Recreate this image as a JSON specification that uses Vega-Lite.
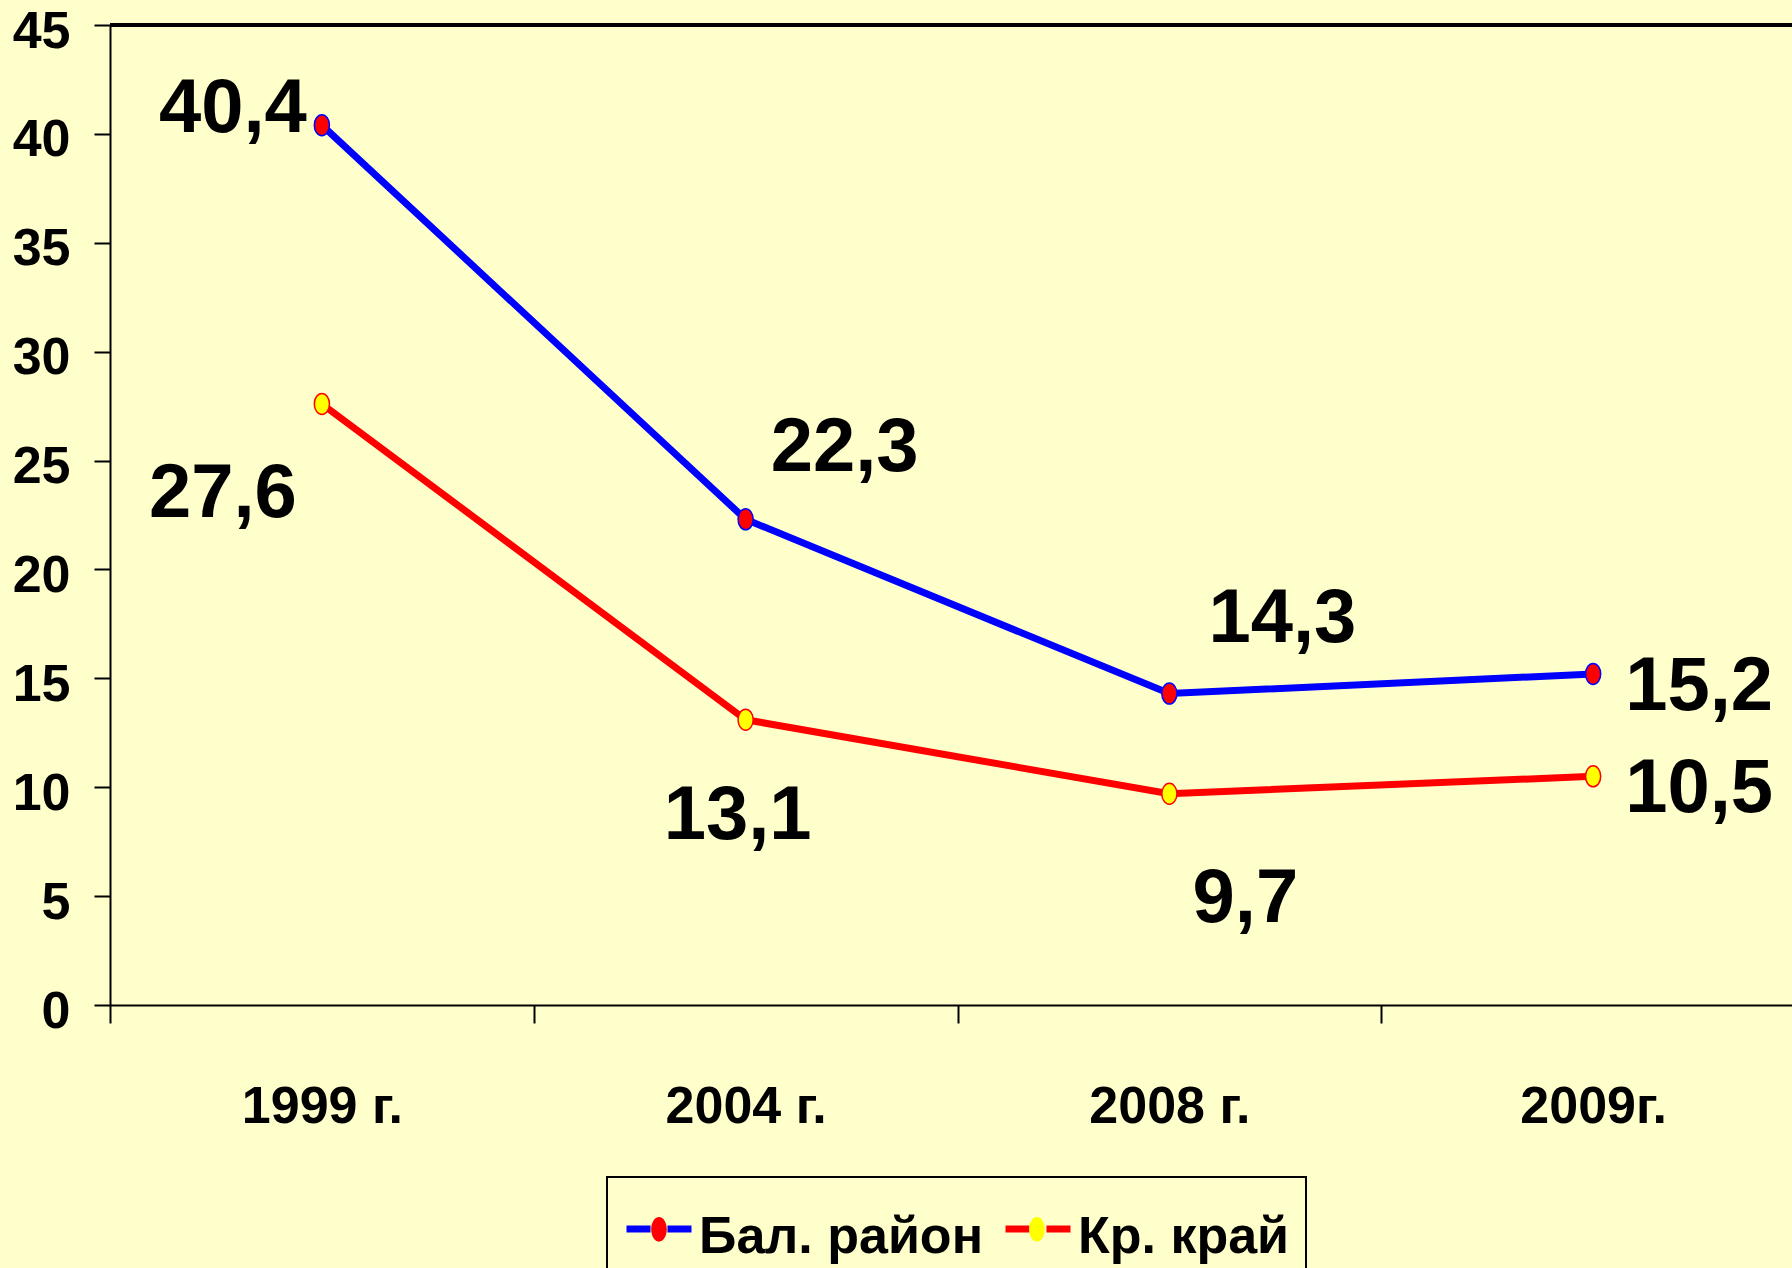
{
  "$schema": "https://vega.github.io/schema/vega-lite/v6.json",
  "autosize": {"type": "none"},
  "width": 1682,
  "height": 980,
  "padding": {"left": 110, "top": 25, "right": 0, "bottom": 263},
  "background": "#FFFFCC",
  "data": {
    "values": [
      {"year": "1999 г.", "series": "Бал. район", "value": 40.4},
      {"year": "2004 г.", "series": "Бал. район", "value": 22.3},
      {"year": "2008 г.", "series": "Бал. район", "value": 14.3},
      {"year": "2009г.", "series": "Бал. район", "value": 15.2},
      {"year": "1999 г.", "series": "Кр. край", "value": 27.6},
      {"year": "2004 г.", "series": "Кр. край", "value": 13.1},
      {"year": "2008 г.", "series": "Кр. край", "value": 9.7},
      {"year": "2009г.", "series": "Кр. край", "value": 10.5}
    ]
  },
  "layer": [
    {
      "mark": {"type": "rule", "color": "black", "strokeWidth": 3},
      "encoding": {"y": {"datum": 45, "type": "quantitative", "scale": {"domain": [0, 45], "nice": false, "zero": true}}}
    },
    {
      "mark": {"type": "line", "strokeWidth": 7},
      "encoding": {
        "x": {"field": "year", "type": "ordinal", "sort": ["1999 г.", "2004 г.", "2008 г.", "2009г."],
              "scale": {"type": "band", "paddingInner": 0, "paddingOuter": 0, "range": [0, 1695]},
              "axis": {"title": null, "labelAngle": 0, "tickBand": "extent", "tickSize": 18, "labelPadding": 58, "labelLimit": 500}},
        "y": {"field": "value", "type": "quantitative", "scale": {"domain": [0, 45], "nice": false},
              "axis": {"title": null, "values": [0, 5, 10, 15, 20, 25, 30, 35, 40, 45], "tickSize": 16, "labelPadding": 24, "labelOffset": 6}},
        "stroke": {"field": "series", "type": "nominal",
                   "scale": {"domain": ["Бал. район", "Кр. край"], "range": ["#0000FF", "#FF0000"]},
                   "legend": {"title": null, "orient": "none", "direction": "horizontal", "legendX": 497, "legendY": 1152,
                              "padding": 16, "strokeColor": "black", "symbolType": "M-1,0H-0.26M0.26,0H1",
                              "symbolSize": 4225, "symbolStrokeWidth": 7, "labelOffset": 4, "columnPadding": 7,
                              "labelLimit": 500, "labelFontSize": 52,
                              "encode": {"labels": {"update": {"dy": {"value": 8}}}}}}
      }
    },
    {
      "mark": {"type": "point", "filled": true, "opacity": 1, "strokeWidth": 1.5, "size": 441,
               "shape": "M-0.72,0A0.72,1 0 1,1 0.72,0A0.72,1 0 1,1 -0.72,0Z"},
      "encoding": {
        "x": {"field": "year", "type": "ordinal", "sort": ["1999 г.", "2004 г.", "2008 г.", "2009г."]},
        "y": {"field": "value", "type": "quantitative"},
        "stroke": {"field": "series", "type": "nominal"},
        "fill": {"field": "series", "type": "nominal",
                 "scale": {"range": ["#FF0000", "#FFFF00"]},
                 "legend": {"title": null, "orient": "none", "direction": "horizontal", "legendX": 497, "legendY": 1152,
                            "padding": 16, "symbolType": "M-1,0L-1,0M1,0L1,0M-0.24,0A0.24,0.38 0 1,1 0.24,0A0.24,0.38 0 1,1 -0.24,0Z",
                            "symbolSize": 4225, "symbolStrokeWidth": 7, "symbolStrokeColor": "transparent", "labelOffset": 4, "columnPadding": 284,
                            "labelExpr": "''", "labelFontSize": 52}}
      }
    },
    {
      "transform": [{"filter": "datum.series === 'Бал. район' && datum.year === '1999 г.'"}],
      "mark": {"type": "text", "align": "right", "baseline": "alphabetic", "dx": -15, "dy": 7},
      "encoding": {"x": {"field": "year", "type": "ordinal", "sort": ["1999 г.", "2004 г.", "2008 г.", "2009г."]}, "y": {"field": "value", "type": "quantitative"}, "text": {"field": "value", "type": "quantitative", "format": ".1f"}}
    },
    {
      "transform": [{"filter": "datum.series === 'Кр. край' && datum.year === '1999 г.'"}],
      "mark": {"type": "text", "align": "right", "baseline": "alphabetic", "dx": -25, "dy": 113},
      "encoding": {"x": {"field": "year", "type": "ordinal", "sort": ["1999 г.", "2004 г.", "2008 г.", "2009г."]}, "y": {"field": "value", "type": "quantitative"}, "text": {"field": "value", "type": "quantitative", "format": ".1f"}}
    },
    {
      "transform": [{"filter": "datum.series === 'Бал. район' && datum.year === '2004 г.'"}],
      "mark": {"type": "text", "align": "left", "baseline": "alphabetic", "dx": 25, "dy": -48},
      "encoding": {"x": {"field": "year", "type": "ordinal", "sort": ["1999 г.", "2004 г.", "2008 г.", "2009г."]}, "y": {"field": "value", "type": "quantitative"}, "text": {"field": "value", "type": "quantitative", "format": ".1f"}}
    },
    {
      "transform": [{"filter": "datum.series === 'Кр. край' && datum.year === '2004 г.'"}],
      "mark": {"type": "text", "align": "center", "baseline": "alphabetic", "dx": -8, "dy": 119},
      "encoding": {"x": {"field": "year", "type": "ordinal", "sort": ["1999 г.", "2004 г.", "2008 г.", "2009г."]}, "y": {"field": "value", "type": "quantitative"}, "text": {"field": "value", "type": "quantitative", "format": ".1f"}}
    },
    {
      "transform": [{"filter": "datum.series === 'Бал. район' && datum.year === '2008 г.'"}],
      "mark": {"type": "text", "align": "left", "baseline": "alphabetic", "dx": 39, "dy": -52},
      "encoding": {"x": {"field": "year", "type": "ordinal", "sort": ["1999 г.", "2004 г.", "2008 г.", "2009г."]}, "y": {"field": "value", "type": "quantitative"}, "text": {"field": "value", "type": "quantitative", "format": ".1f"}}
    },
    {
      "transform": [{"filter": "datum.series === 'Кр. край' && datum.year === '2008 г.'"}],
      "mark": {"type": "text", "align": "center", "baseline": "alphabetic", "dx": 76, "dy": 128},
      "encoding": {"x": {"field": "year", "type": "ordinal", "sort": ["1999 г.", "2004 г.", "2008 г.", "2009г."]}, "y": {"field": "value", "type": "quantitative"}, "text": {"field": "value", "type": "quantitative", "format": ".1f"}}
    },
    {
      "transform": [{"filter": "datum.year === '2009г.'"}],
      "mark": {"type": "text", "align": "left", "baseline": "alphabetic", "dx": 32, "dy": 36},
      "encoding": {"x": {"field": "year", "type": "ordinal", "sort": ["1999 г.", "2004 г.", "2008 г.", "2009г."]}, "y": {"field": "value", "type": "quantitative"}, "text": {"field": "value", "type": "quantitative", "format": ".1f"}}
    }
  ],
  "config": {
    "locale": {"number": {"decimal": ",", "thousands": " ", "grouping": [3], "currency": ["", " ₽"]}},
    "view": {"stroke": null},
    "font": "Liberation Sans, Arial, sans-serif",
    "text": {"font": "Liberation Sans, Arial, sans-serif", "fontSize": 76, "fontWeight": "bold", "color": "black"},
    "axis": {"grid": false, "domainColor": "black", "domainWidth": 2, "tickColor": "black", "tickWidth": 2,
             "labelColor": "black", "labelFont": "Liberation Sans, Arial, sans-serif", "labelFontWeight": "bold", "labelFontSize": 52},
    "legend": {"labelFont": "Liberation Sans, Arial, sans-serif", "labelFontWeight": "bold", "labelColor": "black", "strokeWidth": 2}
  }
}
